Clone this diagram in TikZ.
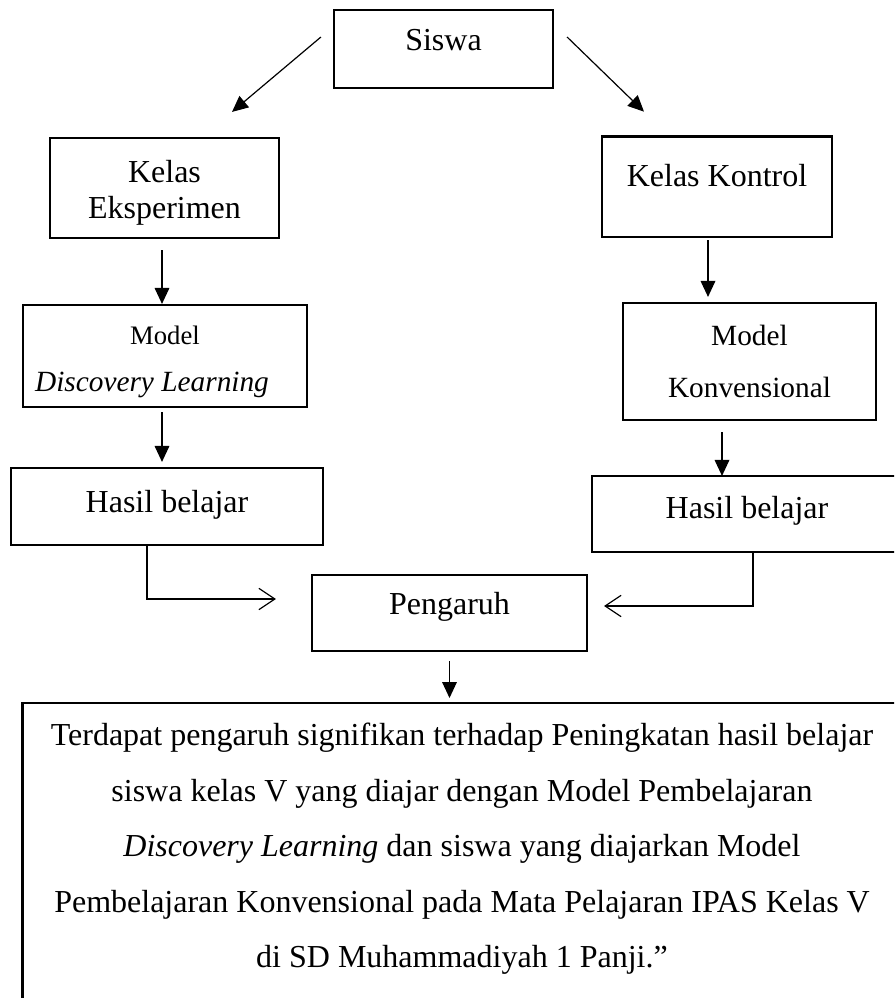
\documentclass[tikz,border=0pt]{standalone}
\usepackage{fontspec}
\setmainfont{Liberation Serif}
\usetikzlibrary{calc,arrows.meta}

\begin{document}
\begin{tikzpicture}[x=0.375pt, y=-0.375pt,
  box/.style={draw, line width=0.8pt, inner sep=0pt, align=center,
    font=\fontsize{12}{13.7}\selectfont},
  flow/.style={line width=0.45pt, -{Triangle[length=6pt,width=5.5pt]}},
  merge/.style={line width=0.45pt, -{Straight Barb[length=6pt,width=8pt]}}]
  \useasboundingbox (0,0) rectangle (894,998);
  \clip (0,0) rectangle (894,998);

  % boxes
  \node[box, minimum width=82.125pt, minimum height=29.25pt,
    text height=7.9pt, text depth=6.75pt] (siswa) at (443.5,49) {Siswa};
  \node[box, minimum width=85.875pt, minimum height=37.5pt,
    text height=25.7pt] (kelasE) at (164.5,188) {Kelas\\Eksperimen};
  \node[box, minimum width=86.25pt, minimum height=37.7pt,
    text height=7.9pt, text depth=8pt] (kelasK) at (717,186.75) {Kelas Kontrol};
  \node[box, minimum width=106.5pt, minimum height=38.25pt,
    text height=29.3pt, font=\fontsize{11}{17.6}\selectfont] (modelDL) at (165,356)
    {{\fontsize{10}{17.6}\selectfont Model}\\
     \textit{Discovery Learning}\hspace*{9.75pt}};
  \node[box, minimum width=94.875pt, minimum height=43.875pt,
    font=\fontsize{11}{19.5}\selectfont] (modelK) at (749.5,361.5)
    {Model\\Konvensional};
  \node[box, minimum width=117pt, minimum height=28.875pt,
    text height=7.9pt, text depth=3.75pt] (hasilE) at (167,506.5) {Hasil belajar};
  \node[box, minimum width=116.25pt, minimum height=28.5pt,
    text height=7.9pt, text depth=4.9pt] (hasilK) at (747,514) {Hasil belajar};
  \node[box, minimum width=103.125pt, minimum height=28.5pt,
    text height=7.9pt, text depth=6.75pt] (pengaruh) at (449.5,613) {Pengaruh};
  \node[anchor=north, inner xsep=0pt, inner ysep=7.4pt, align=center,
    minimum width=329.25pt, font=\fontsize{12}{20.8}\selectfont] (concl) at (462,703)
    {Terdapat pengaruh signifikan terhadap Peningkatan hasil belajar\\
     siswa kelas V yang diajar dengan Model Pembelajaran\\
     \textit{Discovery Learning} dan siswa yang diajarkan Model\\
     Pembelajaran Konvensional pada Mata Pelajaran IPAS Kelas V\\
     di SD Muhammadiyah 1 Panji.''};
  \draw[line width=0.8pt] ($(concl.north west)+(0,330)$) -- (concl.north west)
    -- (concl.north east) -- ++(0,330);

  % arrows
  \draw[flow] ($(siswa.west)+(-12,-12)$) -- ($(kelasE.north)+(67.5,-25)$);
  \draw[flow] ($(siswa.east)+(13,-12)$) -- ($(kelasK.north)+(-73,-23.75)$);
  \draw[flow] ($(kelasE.south)+(-2.5,11)$) -- ($(modelDL.north)+(-3,0)$);
  \draw[flow] ($(kelasK.south)+(-9,2)$) -- ($(modelK.north)+(-41.5,-5)$);
  \draw[flow] ($(modelDL.south)+(-3,4)$) -- ($(hasilE.north)+(-5,-5)$);
  \draw[flow] ($(modelK.south)+(-27.5,11)$) -- ($(hasilK.north)+(-25,1)$);
  \draw[merge] ($(hasilE.south)+(-20,0)$) |- ($(pengaruh.west)+(-35,-14)$);
  \draw[merge] ($(hasilK.south)+(6,0)$) |- ($(pengaruh.east)+(16,-7)$);
  \draw[flow] ($(pengaruh.south)+(0,9)$) -- ($(pengaruh.south |- concl.north)+(0,-5)$);
\end{tikzpicture}
\end{document}
